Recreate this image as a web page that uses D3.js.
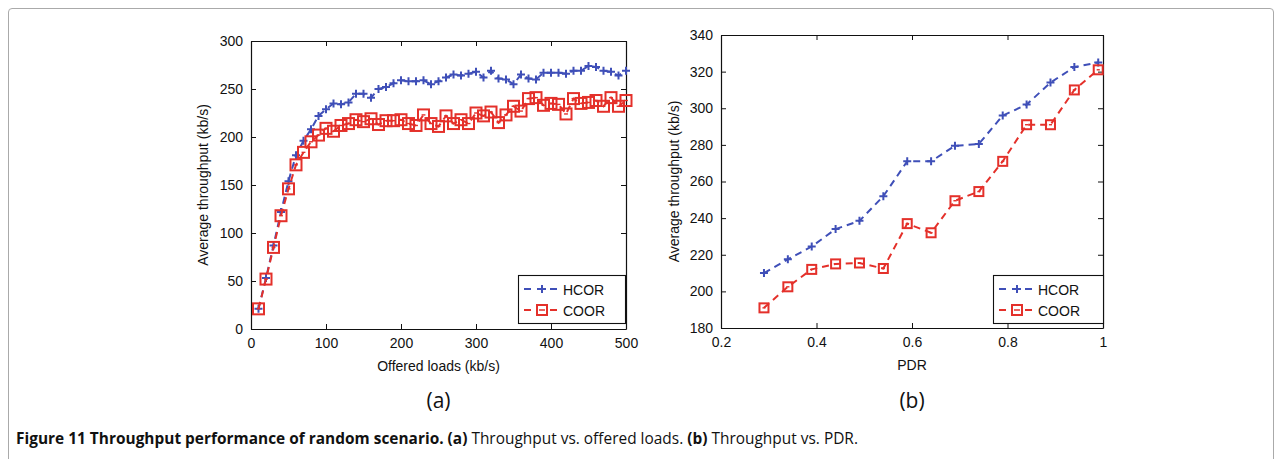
<!DOCTYPE html>
<html lang="en">
<head>
  <meta charset="UTF-8">
  <title>Figure 11 - Throughput performance of random scenario</title>
  <style>
    body { margin: 0; background: #fff; }
    svg { display: block; }
    .ax text { font-family: "Liberation Sans", Arial, sans-serif; font-size: 14px; fill: #111; }
    .sub { font-family: "Open Sans", "Noto Sans", sans-serif; font-size: 21px; fill: #111; text-anchor: middle; }
    .cap { font-family: "Open Sans", "Noto Sans", sans-serif; font-size: 16px; fill: #111; }
  </style>
</head>
<body>
<svg width="1282" height="459"></svg>
<script src="https://d3js.org/d3.v7.min.js"></script>
<script>
  // (a) throughput vs offered loads
  const loads = [10, 20, 30, 40, 50, 60, 70, 80, 90, 100,
    110, 120, 130, 140, 150, 160, 170, 180, 190, 200,
    210, 220, 230, 240, 250, 260, 270, 280, 290, 300,
    310, 320, 330, 340, 350, 360, 370, 380, 390, 400,
    410, 420, 430, 440, 450, 460, 470, 480, 490, 500];
  const hcorA = [21, 53, 87, 122, 154, 181, 196, 208, 222, 229,
    235, 234, 236, 245, 245, 241, 250, 252, 256, 259,
    258, 258, 259, 255, 258, 262, 265, 264, 266, 268,
    262, 269, 261, 260, 255, 265, 261, 260, 267, 267,
    267, 266, 269, 269, 274, 273, 269, 268, 264, 269];
  const coorA = [21, 52, 85, 118, 146, 171, 184, 195, 202, 209,
    206, 212, 214, 218, 216, 219, 213, 217, 217, 218,
    214, 212, 223, 214, 211, 222, 214, 218, 214, 225,
    222, 226, 215, 223, 232, 227, 240, 241, 233, 235,
    234, 224, 240, 235, 236, 238, 232, 241, 232, 238];
  const xTicksA = [0, 100, 200, 300, 400, 500];
  const yTicksA = [0, 50, 100, 150, 200, 250, 300];

  // (b) throughput vs PDR
  const pdr = [0.29, 0.34, 0.39, 0.44, 0.49, 0.54, 0.59, 0.64, 0.69, 0.74, 0.79, 0.84, 0.89, 0.94, 0.99];
  const hcorB = [210, 217.5, 224.5, 234, 238.5, 252, 271, 271, 279.5, 280.5, 296, 302, 314, 322.5, 325];
  const coorB = [191, 202.5, 212, 215, 215.5, 212.5, 237, 232, 249.5, 254.5, 271, 291, 291, 310, 321];
  const xTicksB = [0.2, 0.4, 0.6, 0.8, 1];
  const yTicksB = [180, 200, 220, 240, 260, 280, 300, 320, 340];

  const seriesNames = ["HCOR", "COOR"];
  const blue = "#3f4fb8";
  const red = "#e4302a";

  const svg = d3.select("svg");

  // figure frame
  svg.append("path")
    .attr("d", "M8.5,470 L8.5,12 Q8.5,8.5 12,8.5 L1270,8.5 Q1273.5,8.5 1273.5,12 L1273.5,470")
    .attr("fill", "none").attr("stroke", "#aaa").attr("stroke-width", 1);

  function plusMark(g, x, y, s, sw) {
    g.append("path")
      .attr("d", `M${x - s},${y}H${x + s}M${x},${y - s}V${y + s}`)
      .attr("stroke", blue).attr("stroke-width", sw).attr("fill", "none");
  }
  function squareMark(g, x, y, s, sw) {
    g.append("rect")
      .attr("x", x - s).attr("y", y - s).attr("width", 2 * s).attr("height", 2 * s)
      .attr("fill", "#fff").attr("fill-opacity", 0.0)
      .attr("stroke", red).attr("stroke-width", sw);
    g.append("path")
      .attr("d", `M${x - s * 0.35},${y}H${x + s * 0.35}`)
      .attr("stroke", red).attr("stroke-width", 1.4);
  }

  function panel(o) {
    const g = svg.append("g").attr("class", "ax");
    const x = d3.scaleLinear().domain(o.xDomain).range([o.left, o.right]);
    const y = d3.scaleLinear().domain(o.yDomain).range([o.bottom, o.top]);

    // axes (MATLAB style box, inward ticks on all sides)
    const axB = g.append("g").attr("transform", `translate(0,${o.bottom})`)
      .call(d3.axisBottom(x).tickValues(o.xTicks).tickSizeInner(-5).tickSizeOuter(0).tickPadding(9)
        .tickFormat(d => d === 1 ? "1" : d3.format(o.xFmt)(d)));
    const axT = g.append("g").attr("transform", `translate(0,${o.top})`)
      .call(d3.axisTop(x).tickValues(o.xTicks).tickSizeInner(-5).tickSizeOuter(0).tickFormat(""));
    const axL = g.append("g").attr("transform", `translate(${o.left},0)`)
      .call(d3.axisLeft(y).tickValues(o.yTicks).tickSizeInner(-5).tickSizeOuter(0).tickPadding(8));
    const axR = g.append("g").attr("transform", `translate(${o.right},0)`)
      .call(d3.axisRight(y).tickValues(o.yTicks).tickSizeInner(-5).tickSizeOuter(0).tickFormat(""));
    [axB, axT, axL, axR].forEach(a => {
      a.select(".domain").attr("stroke", "#111").attr("stroke-width", 1.2);
      a.selectAll(".tick line").attr("stroke", "#111");
      a.selectAll("text").attr("font-size", 14).attr("fill", "#111")
        .attr("font-family", "Liberation Sans, Arial, sans-serif");
    });

    // axis titles
    g.append("text").attr("x", (o.left + o.right) / 2).attr("y", o.bottom + 42)
      .attr("text-anchor", "middle").text(o.xLabel);
    g.append("text")
      .attr("transform", `translate(${o.yLabelX},${(o.top + o.bottom) / 2}) rotate(-90)`)
      .attr("text-anchor", "middle").text("Average throughput (kb/s)");

    // series
    const line = d3.line().x(d => x(d[0])).y(d => y(d[1]));
    const sets = [
      { vals: o.hcor, color: blue, mark: plusMark, ms: o.plusSize },
      { vals: o.coor, color: red, mark: squareMark, ms: o.sqSize }
    ];
    // draw HCOR first, then COOR on top
    sets.forEach(s => {
      const pts = o.xs.map((v, i) => [v, s.vals[i]]);
      g.append("path").datum(pts).attr("d", line)
        .attr("fill", "none").attr("stroke", s.color).attr("stroke-width", 2)
        .attr("stroke-dasharray", "7,5");
      const mg = g.append("g");
      pts.forEach(p => s.mark(mg, x(p[0]), y(p[1]), s.ms, 2));
    });

    // legend
    const lg = g.append("g");
    lg.append("rect").attr("x", o.legX + 0.5).attr("y", o.legY + 0.5)
      .attr("width", o.legW).attr("height", 48)
      .attr("fill", "#fff").attr("stroke", "#111").attr("stroke-width", 1.1);
    seriesNames.forEach((name, i) => {
      const cy = o.legY + 14 + i * 21;
      const c = i === 0 ? blue : red;
      lg.append("path").attr("d", `M${o.legX + 6},${cy}H${o.legX + 42}`)
        .attr("stroke", c).attr("stroke-width", 2).attr("stroke-dasharray", "7,6");
      if (i === 0) plusMark(lg, o.legX + 24, cy, 4, 2);
      else {
        lg.append("rect").attr("x", o.legX + 24 - 5).attr("y", cy - 5)
          .attr("width", 10).attr("height", 10).attr("fill", "#fff")
          .attr("stroke", red).attr("stroke-width", 2);
        lg.append("path").attr("d", `M${o.legX + 21},${cy}H${o.legX + 27}`)
          .attr("stroke", red).attr("stroke-width", 1.5);
      }
      lg.append("text").attr("x", o.legX + 45).attr("y", cy + 5.5)
        .attr("font-size", 16).text(name);
    });

    // sub caption
    svg.append("text").attr("class", "sub")
      .attr("x", (o.left + o.right) / 2).attr("y", 408).text(o.sub);
  }

  panel({
    xs: loads, hcor: hcorA, coor: coorA,
    xDomain: [0, 500], yDomain: [0, 300], xTicks: xTicksA, yTicks: yTicksA, xFmt: "d",
    left: 251, right: 626, top: 41, bottom: 329,
    xLabel: "Offered loads (kb/s)", yLabelX: 208, sub: "(a)",
    plusSize: 4, sqSize: 5.5,
    legX: 518, legY: 275, legW: 107
  });

  panel({
    xs: pdr, hcor: hcorB, coor: coorB,
    xDomain: [0.2, 1], yDomain: [180, 340], xTicks: xTicksB, yTicks: yTicksB, xFmt: ".1f",
    left: 721, right: 1103, top: 35, bottom: 328,
    xLabel: "PDR", yLabelX: 679, sub: "(b)",
    plusSize: 4, sqSize: 4.5,
    legX: 993, legY: 275, legW: 110
  });

  // figure caption
  const cap = svg.append("text").attr("class", "cap").attr("x", 16).attr("y", 444);
  cap.append("tspan").attr("font-weight", "bold").text("Figure 11 Throughput performance of random scenario. (a)");
  cap.append("tspan").text(" Throughput vs. offered loads. ");
  cap.append("tspan").attr("font-weight", "bold").text("(b)");
  cap.append("tspan").text(" Throughput vs. PDR.");
  const w = cap.node().getComputedTextLength();
  const sx = 842 / w;
  cap.attr("transform", `translate(16,0) scale(${sx},1) translate(-16,0)`);
</script>
</body>
</html>
